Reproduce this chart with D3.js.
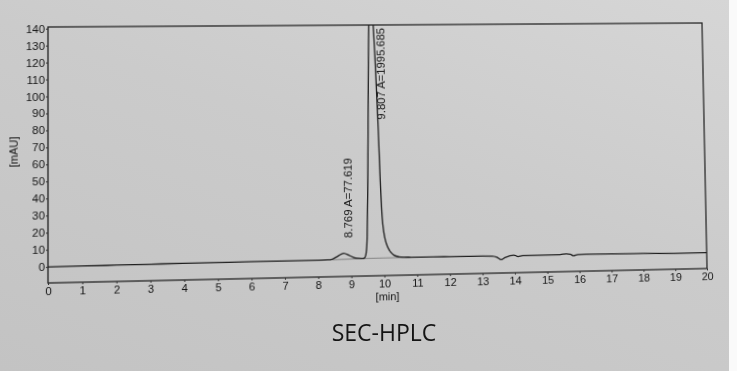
<!DOCTYPE html>
<html>
<head>
<meta charset="utf-8">
<script src="https://cdn.jsdelivr.net/npm/d3@7"></script>
<style>
  body { margin: 0; background: #fff; }
  #paper {
    position: relative; width: 737px; height: 371px; overflow: hidden;
    background: linear-gradient(200deg, #d6d6d6 0%, #cbcbcb 45%, #c3c3c3 100%);
  }
  #edge { position: absolute; left: 729px; top: 0; width: 8px; height: 371px; background: #fafafa; }
  #sheet { position: absolute; left: 0; top: 0; transform-origin: 0 0; }
  #title { position: absolute; left: 0; top: 0; }
  text { font-family: "Liberation Sans", Arial, sans-serif; fill: #141414; }
</style>
</head>
<body>
<div id="paper">
  <div id="sheet"></div>
  <svg id="title" width="737" height="371"></svg>
  <div id="edge"></div>
</div>
<script>
// chromatogram trace
var signalTime = [0, 1, 2, 3, 4, 5, 6, 7, 8, 8.3, 8.45, 8.6, 8.77, 8.95, 9.1, 9.25, 9.36,
    9.42, 9.46, 9.49, 9.52, 9.55, 9.58, 9.62, 9.66, 9.70, 9.74, 9.78, 9.82, 9.86, 9.90,
    9.95, 10.0, 10.05, 10.1, 10.2, 10.3, 10.45, 10.6, 10.8, 11, 11.5, 12, 12.5, 13, 13.3,
    13.45, 13.58, 13.7, 13.85, 13.97, 14.1, 14.25, 14.5, 15, 15.4, 15.6, 15.72, 15.82,
    15.95, 16.2, 17, 18, 19, 20];
var signalMAU = [0, 0.1, 0.2, 0.3, 0.4, 0.45, 0.5, 0.55, 0.6, 0.65, 1.2, 2.8, 4.4, 3.0, 1.6, 1.1, 1.0,
    1.8, 5, 14, 40, 78, 120, 152, 166, 162, 140, 122, 100, 78, 50,
    26, 16, 11, 8, 4.5, 2.6, 1.6, 1.3, 1.2, 1.1, 1.1, 1.05, 1.0, 1.0, 0.9,
    0.1, -1.4, -0.2, 0.9, 1.2, 0.3, 0.8, 0.85, 0.85, 0.9, 1.3, 1.0, 0.1,
    0.7, 0.8, 0.7, 0.5, 0.3, 0.2];

// integration baseline under the two peaks
var baseTime = [8.43, 9.36, 10.8];
var baseMAU = [0.65, 1.0, 1.2];

// peak annotations
var peakTime = [8.769, 9.807];
var peakArea = ["77.619", "1995.685"];
var peakLabelMAU = [13.5, 84];

var xTicks = d3.range(0, 21, 1);
var yTicks = d3.range(0, 141, 10);

var W = 737, H = 371;
var L = 48, R = 705, T = 25, B = 280;

var x = d3.scaleLinear().domain([0, 20]).range([L, R]);
var y = d3.scaleLinear().domain([-9.4, 141]).range([B, T]);

var svg = d3.select("#sheet").append("svg")
    .attr("width", W)
    .attr("height", H);

svg.append("clipPath").attr("id", "plotClip")
  .append("rect")
    .attr("x", L).attr("y", T)
    .attr("width", R - L).attr("height", B - T);

svg.append("rect")
    .attr("x", L).attr("y", T)
    .attr("width", R - L).attr("height", B - T)
    .attr("fill", "none")
    .attr("stroke", "#262626")
    .attr("stroke-width", 1.3);

var yAxis = svg.append("g")
    .attr("transform", "translate(" + L + ",0)")
    .call(d3.axisLeft(y).tickValues(yTicks).tickSize(2).tickPadding(1));
yAxis.select(".domain").remove();

var xAxis = svg.append("g")
    .attr("transform", "translate(0," + B + ")")
    .call(d3.axisBottom(x).tickValues(xTicks).tickSize(2).tickPadding(2));
xAxis.select(".domain").remove();

svg.selectAll(".tick line").attr("stroke", "#333");
svg.selectAll(".tick text")
    .attr("fill", "#141414")
    .style("font-size", "11px")
    .style("font-family", "'Liberation Sans', Arial, sans-serif");

svg.append("text")
    .attr("transform", "translate(15," + ((T + B) / 2 - 3) + ") rotate(-90)")
    .attr("text-anchor", "middle")
    .attr("dominant-baseline", "central")
    .style("font-size", "11px")
    .text("[mAU]");

svg.append("text")
    .attr("x", x(10) + 3)
    .attr("y", B + 25)
    .attr("text-anchor", "middle")
    .style("font-size", "11px")
    .text("[min]");

var line = d3.line()
    .x(function (d, i) { return x(signalTime[i]); })
    .y(function (d) { return y(d); })
    .curve(d3.curveMonotoneX);

var baseLine = d3.line()
    .x(function (d, i) { return x(baseTime[i]); })
    .y(function (d) { return y(d); });

var plot = svg.append("g").attr("clip-path", "url(#plotClip)");

plot.append("path")
    .datum(baseMAU)
    .attr("d", baseLine)
    .attr("fill", "none")
    .attr("stroke", "#555")
    .attr("stroke-width", 0.6);

plot.append("path")
    .datum(signalMAU)
    .attr("d", line)
    .attr("fill", "none")
    .attr("stroke", "#1e1e1e")
    .attr("stroke-width", 1.3);

svg.selectAll(".peakLabel")
    .data(peakTime)
    .enter().append("text")
    .attr("class", "peakLabel")
    .attr("transform", function (d, i) {
        return "translate(" + x(d) + "," + y(peakLabelMAU[i]) + ") rotate(-90)";
    })
    .attr("text-anchor", "start")
    .attr("dominant-baseline", "hanging")
    .style("font-size", "11.5px")
    .text(function (d, i) { return d.toFixed(3) + " A=" + peakArea[i]; });

// the print was photographed at a slant: map the flat sheet onto the photo's quad
function quadMatrix(rect, q) {
    var dx1 = q[1][0] - q[2][0], dx2 = q[3][0] - q[2][0],
        dx3 = q[0][0] - q[1][0] + q[2][0] - q[3][0];
    var dy1 = q[1][1] - q[2][1], dy2 = q[3][1] - q[2][1],
        dy3 = q[0][1] - q[1][1] + q[2][1] - q[3][1];
    var den = dx1 * dy2 - dx2 * dy1;
    var g = (dx3 * dy2 - dx2 * dy3) / den;
    var h = (dx1 * dy3 - dx3 * dy1) / den;
    var a = q[1][0] - q[0][0] + g * q[1][0], b = q[3][0] - q[0][0] + h * q[3][0], c = q[0][0];
    var d = q[1][1] - q[0][1] + g * q[1][1], e = q[3][1] - q[0][1] + h * q[3][1], f = q[0][1];
    var x0 = rect[0], y0 = rect[1], w = rect[2], hh = rect[3];
    var m00 = a / w, m01 = b / hh, m02 = c - a * x0 / w - b * y0 / hh;
    var m10 = d / w, m11 = e / hh, m12 = f - d * x0 / w - e * y0 / hh;
    var m20 = g / w, m21 = h / hh, m22 = 1 - g * x0 / w - h * y0 / hh;
    var m = [m00, m10, 0, m20, m01, m11, 0, m21, 0, 0, 1, 0, m02, m12, 0, m22]
        .map(function (v) { return v / m22; });
    return "matrix3d(" + m.join(",") + ")";
}

d3.select("#sheet").style("transform",
    quadMatrix([L, T, R - L, B - T], [[48, 27], [702, 23], [707, 268.5], [48, 283]]));

d3.select("#title").append("text")
    .attr("x", 384)
    .attr("y", 341)
    .attr("text-anchor", "middle")
    .style("font-family", "'Open Sans', sans-serif")
    .style("font-size", "23px")
    .text("SEC-HPLC");
</script>
</body>
</html>
